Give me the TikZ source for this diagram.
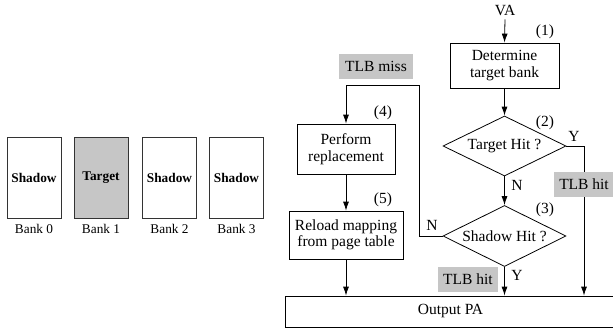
\documentclass[tikz,border=0pt]{standalone}
\usepackage{fontspec}
\setmainfont{Liberation Serif}
\usetikzlibrary{arrows.meta,shapes.geometric}
\definecolor{shade}{HTML}{C6C6C6}
\begin{document}
\begin{tikzpicture}[x=1pt,y=-1pt,
  txt/.style={font=\fontsize{15.5}{16.5}\selectfont, inner sep=0pt},
  bankbox/.style={draw=black!80, line width=1pt, minimum width=54pt, minimum height=81pt,
    inner sep=0pt, font=\fontsize{13.3}{14}\selectfont\bfseries},
  banklabel/.style={font=\fontsize{13.3}{14}\selectfont, inner sep=0pt},
  procbox/.style={draw, line width=0.8pt, align=center, inner sep=0pt,
    font=\fontsize{15.5}{16.5}\selectfont},
  decision/.style={draw, line width=0.8pt, shape=diamond, aspect=2, inner sep=0pt,
    minimum width=123pt, minimum height=60pt, font=\fontsize{15.5}{16.5}\selectfont},
  tag/.style={fill=shade, inner sep=0pt, minimum height=25pt, font=\fontsize{15.5}{16.5}\selectfont},
  flow/.style={line width=0.8pt, -{Latex[length=9pt,width=6pt]}},
  wire/.style={line width=0.8pt}]
\useasboundingbox (0,0) rectangle (613,332);

% memory banks
\node[bankbox] (b0) at (34,177.5) {Shadow};
\node[bankbox, fill=shade] (b1) at (101,177.5) {Target};
\node[bankbox] (b2) at (169.5,177.5) {Shadow};
\node[bankbox] (b3) at (236.5,177.5) {Shadow};
\node[banklabel] (l0) at (34,229) {Bank 0};
\node[banklabel] (l1) at (101,229) {Bank 1};
\node[banklabel] (l2) at (169.5,229) {Bank 2};
\node[banklabel] (l3) at (236.5,229) {Bank 3};

% translation flow
\node[txt] (va) at (505,11) {VA};
\node[procbox, minimum width=109pt, minimum height=45pt] (det) at (504.5,65.5) {Determine\\target bank};
\node[decision] (thit) at (504.5,146) {Target Hit ?};
\node[decision, minimum height=61pt] (shit) at (504.5,236) {Shadow Hit ?};
\node[procbox, minimum width=98pt, minimum height=50pt] (repl) at (346,149) {Perform\\replacement};
\node[procbox, minimum width=114pt, minimum height=48pt] (reload) at (346,235) {Reload mapping\\from page table};
\node[procbox, minimum width=331pt, minimum height=31pt] (out) at (450.5,311.5) {Output PA};

% step numbers
\node[txt] (s1) at (545,32) {(1)};
\node[txt] (s2) at (545,123) {(2)};
\node[txt] (s3) at (545,210) {(3)};
\node[txt] (s4) at (383,113) {(4)};
\node[txt] (s5) at (383,200) {(5)};

% branch letters
\node[txt] (ty) at (574,136) {Y};
\node[txt] (tn) at (517,185) {N};
\node[txt] (sn) at (432,225) {N};
\node[txt] (sy) at (517,275) {Y};

% connectors
\coordinate (rtop) at (584,146);
\coordinate (loopa) at (419,236);
\coordinate (loopb) at (419,85);
\coordinate (loopc) at (346,85);
\draw[flow] (va.south) ++(0,3) -- (det.north);
\draw[flow] (det.south) -- (thit.north);
\draw[flow] (thit.south) -- (shit.north);
\draw[flow] (thit.east) -- (rtop) -- (rtop |- out.north);
\draw[flow] (shit.south) -- (shit.south |- out.north);
\draw[wire] (shit.west) -- (loopa) -- (loopb) -- (loopc);
\draw[flow] (loopc) -- (repl.north);
\draw[flow] (repl.south) -- (reload.north);
\draw[flow] (reload.south) -- (reload.south |- out.north);

% result tags
\node[tag, minimum width=74pt] (miss) at (376,66.5) {TLB miss};
\node[tag, minimum width=60pt] (hit1) at (584,184) {TLB hit};
\node[tag, minimum width=60pt] (hit2) at (468,279) {TLB hit};
\end{tikzpicture}
\end{document}
